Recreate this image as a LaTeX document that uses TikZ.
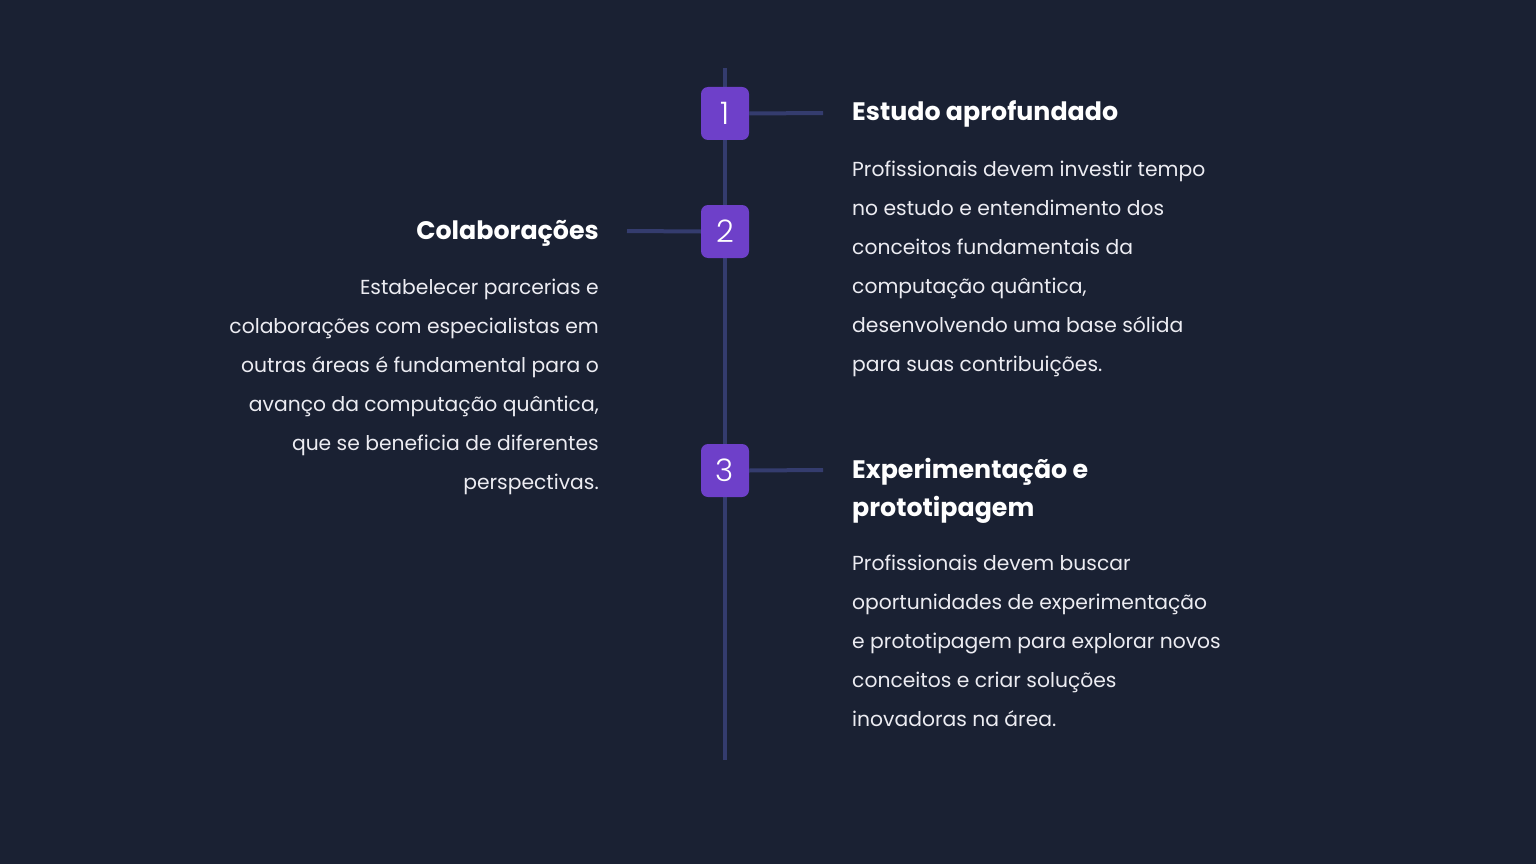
\documentclass[tikz,border=0pt]{standalone}
\usepackage{fontspec}
\setmainfont{Poppins}
\newfontfamily\poplight{Poppins Light}
\definecolor{bg}{RGB}{26,33,51}
\definecolor{linec}{RGB}{52,60,110}
\definecolor{boxc}{RGB}{110,64,201}
\definecolor{bodyc}{RGB}{236,236,242}
\tikzset{
  numbox/.style={fill=boxc, rounded corners=7pt, minimum width=48pt, minimum height=53pt, inner sep=0pt, text=white, font=\poplight\fontsize{31pt}{31pt}\selectfont},
  conn/.style={draw=linec, line width=4pt},
  ttl/.style={text=white, font=\bfseries\fontsize{25.3pt}{38pt}\selectfont, inner sep=0pt},
  bodyr/.style={text=bodyc, font=\fontsize{20.3pt}{39pt}\selectfont, inner sep=0pt, align=left, anchor=base west},
  bodyl/.style={text=bodyc, font=\fontsize{20.3pt}{39pt}\selectfont, inner sep=0pt, align=right, anchor=base east},
}
\begin{document}
\begin{tikzpicture}[x=1pt,y=-1pt]
\fill[bg] (0,0) rectangle (1536,864);
\useasboundingbox (0,0) rectangle (1536,864);
\coordinate (top) at (725,68);
\coordinate (bot) at (725,760);
\draw[conn] (top) -- (bot);
\coordinate (c1) at (823,113);
\coordinate (c2) at (627,231);
\coordinate (c3) at (823,470);
\node[numbox] (n1) at (725,113.5) {1};
\node[numbox] (n2) at (725,231.5) {2};
\node[numbox] (n3) at (725,470.5) {3};
\draw[conn] (n1.east) -- (c1);
\draw[conn] (n2.west) -- (c2);
\draw[conn] (n3.east) -- (c3);
\node[ttl, anchor=base west] (t1) at (852,121) {Estudo aprofundado};
\node[bodyr] (b1) at (852,371) {Profissionais devem investir tempo\\no estudo e entendimento dos\\conceitos fundamentais da\\computação quântica,\\desenvolvendo uma base sólida\\para suas contribuições.};
\node[ttl, anchor=base east] (t2) at (599,239) {Colaborações};
\node[bodyl] (b2) at (599,489) {Estabelecer parcerias e\\colaborações com especialistas em\\outras áreas é fundamental para o\\avanço da computação quântica,\\que se beneficia de diferentes\\perspectivas.};
\node[ttl, anchor=base west, align=left] (t3) at (852,516) {Experimentação e\\prototipagem};
\node[bodyr] (b3) at (852,726) {Profissionais devem buscar\\oportunidades de experimentação\\e prototipagem para explorar novos\\conceitos e criar soluções\\inovadoras na área.};
\end{tikzpicture}
\end{document}
